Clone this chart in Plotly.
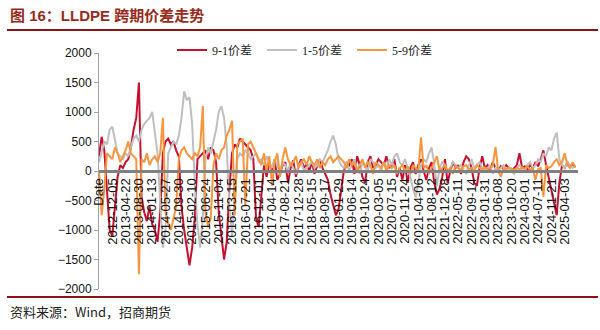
import plotly.graph_objects as go

# ---------------- data (one sample ~ every 2.66 px) ----------------
tick_labels = ["Date", "2012-12-05", "2013-04-22", "2013-08-30", "2014-01-13", "2014-05-27",
               "2014-09-30", "2015-02-10", "2015-06-24", "2015-11-04", "2016-03-15", "2016-07-21",
               "2016-12-01", "2017-04-14", "2017-08-21", "2017-12-28", "2018-05-15", "2018-09-17",
               "2019-01-29", "2019-06-14", "2019-10-24", "2020-03-05", "2020-07-15", "2020-11-24",
               "2021-04-06", "2021-08-12", "2021-12-28", "2022-05-11", "2022-09-14", "2023-01-31",
               "2023-06-08", "2023-10-20", "2024-03-01", "2024-07-11", "2024-11-21", "2025-04-03"]
samples_per_tick = 5

spread_9_1 = [250, 580, 350, -300, -1000, -1100, -600, -100, 100, 50,
              150, 200, 400, 700, 900, 1500, -450, -700, -850, -600,
              -900, -1000, -1200, -700, 300, 500, 550, 450, 500, 350,
              250, -600, -1000, -1300, -1600, -1300, -800, 200, 250, 300,
              350, 200, 400, 350, 150, -700, -1100, -1500, -1200, -300,
              300, 450, 400, 550, 500, 450, 400, 350, 200, -800,
              -950, -400, 100, -100, 150, 0, 200, -150, -50, 100,
              150, -200, 50, 180, -100, 100, 200, 50, 120, 0,
              150, -50, 100, 200, 50, -50, -150, -400, -600, -750,
              -650, -300, 0, 150, 100, 200, -50, 250, 100, -100,
              -200, 150, 250, 50, 100, 200, 150, 100, 250, 50,
              100, 200, -100, 50, -150, 100, -200, 50, 150, -50,
              100, 200, 0, -150, 50, 150, -200, -400, -300, -100,
              200, -200, 0, 150, 50, 100, -50, 150, 250, 200,
              50, -200, -250, 50, 250, 50, 100, 0, 150, 50,
              0, 80, 30, 100, 50, 0, 50, 100, 300, 50,
              80, 20, 100, 50, 150, 80, 200, 350, 100, -100,
              -300, -500, -750, -200, 100, 50, 150, 80, 120, 60]

spread_1_5 = [150, 350, 500, 450, 700, 750, 500, 300, 250, 200,
              300, 250, 400, 550, 600, 500, 700, 800, 850, 900,
              1000, 600, 300, -500, -1300, -1000, 300, 400, 500, 450,
              600, 900, 1350, 1200, 1250, 800, -200, -900, -1300, -800,
              200, 400, 300, 500, 700, 1000, 1100, 900, 400, -600,
              -1100, -500, 200, 300, 250, 350, 300, 200, 250, 300,
              150, 200, 100, 250, 150, 50, 200, 100, -50, 150,
              100, 0, 150, 50, -50, 100, 150, 0, 50, 100,
              150, 50, 100, 200, 150, 250, 350, 500, 600, 450,
              200, 100, 50, 150, 0, 100, 200, 50, -50, 150,
              100, 0, 200, 150, 50, 100, 0, 150, 50, 200,
              100, 250, 300, 150, 100, 200, 50, -100, -300, -450,
              -200, 100, 200, 150, 300, 400, 100, -250, 50, 150,
              100, 0, 50, 150, 100, 50, 100, 0, -50, 100,
              200, 50, 100, 150, 50, 0, 50, 100, -50, 50,
              0, 50, 100, 30, 50, 0, -50, 50, 100, 50,
              0, 100, 150, 50, 100, 200, 150, 300, 250, 400,
              350, 550, 650, 200, 100, 50, 150, 100, 50, 80]

spread_5_9 = [0, -750, -300, 300, 250, 200, 400, 300, 150, 250,
              350, 500, 300, 250, 200, -1750, 200, 150, 300, 100,
              200, 250, 150, 300, 900, -700, -900, -1000, -800, -600,
              200, 350, 400, 300, 250, 200, 300, 250, 400, 1100,
              -700, -950, -800, 100, 300, 200, 350, 400, 600, 700,
              850, -750, 450, 500, 550, -600, 450, 500, 400, 300,
              200, 100, 300, 0, 250, -250, 150, 300, -100, 200,
              400, 200, 100, 150, 250, 50, 150, 200, 100, 250,
              150, 100, 200, 50, 150, 100, 200, 250, 150, 200,
              250, 200, 150, 50, 200, 100, 150, 0, 100, 200,
              50, 150, 100, -50, 150, 100, 50, 150, 0, 100,
              50, 100, -50, 50, 100, 0, 80, -50, 100, 50,
              0, 570, 50, 100, -50, 50, 150, 250, 0, 50,
              100, 0, 50, -50, 100, 50, 0, 80, 100, 30,
              50, 0, 100, 50, 20, 60, 30, 50, 100, 410,
              0, -100, 50, 30, 60, 40, 20, 50, 30, 60,
              40, 80, 20, 50, -150, 30, 50, -440, 100, 50,
              80, 150, 200, 100, 150, 300, 100, 50, 150, 60]

series_names = ["9-1价差", "1-5价差", "5-9价差"]
series_colors = ["#C8102E", "#BFBFBF", "#F7963C"]

# ---------------- layout geometry ----------------
W, H = 600, 330
L, R, T, B = 99, 22, 53, 41
PW, PH = W - L - R, H - T - B


def fx(px):
    return (px - L) / PW


def fy(py):
    return (H - B - py) / PH


fig = go.Figure()
for name, vals, col in zip(series_names, [spread_9_1, spread_1_5, spread_5_9], series_colors):
    fig.add_trace(go.Scatter(x=list(range(len(vals))), y=vals, mode="lines", name=name,
                             line=dict(color=col, width=2)))

n_ticks = len(tick_labels)
fig.update_layout(
    width=W, height=H,
    margin=dict(l=L, r=R, t=T, b=B, pad=0),
    paper_bgcolor="white", plot_bgcolor="white",
    showlegend=True,
    legend=dict(orientation="h", x=fx(172), y=fy(50), xanchor="left", yanchor="middle",
                entrywidth=45, entrywidthmode="pixels",
                font=dict(family="Liberation Serif, Noto Sans CJK SC", size=12, color="#222"),
                bgcolor="rgba(0,0,0,0)", itemclick=False),
    xaxis=dict(range=[0, 180], anchor="free", position=0.5,
               tickvals=[i * samples_per_tick for i in range(n_ticks)], ticktext=tick_labels,
               tickangle=-90, ticks="", showgrid=False, zeroline=False,
               showline=True, linecolor="#808080", linewidth=3,
               tickfont=dict(family="Liberation Sans, Arial", size=13, color="#111")),
    yaxis=dict(range=[-2000, 2000], dtick=500, tick0=0, showgrid=False, zeroline=False,
               showline=True, linecolor="#A0A0A0", linewidth=1,
               ticks="outside", ticklen=4, tickcolor="#A0A0A0",
               tickfont=dict(family="Liberation Sans, Arial", size=12, color="#111")),
)

fig.add_annotation(xref="paper", yref="paper", x=fx(8), y=fy(16), xanchor="left", yanchor="middle",
                   text="<b>图 16：LLDPE 跨期价差走势</b>", showarrow=False,
                   font=dict(family="Liberation Sans, Noto Sans CJK SC", size=15, color="#9A2A1A"))
fig.add_annotation(xref="paper", yref="paper", x=fx(8), y=fy(311), xanchor="left", yanchor="middle",
                   text="资料来源：Wind，招商期货", showarrow=False,
                   font=dict(family="Noto Sans CJK SC, Liberation Sans", size=13, color="#222"))
for py in (30, 297):
    fig.add_shape(type="line", xref="paper", yref="paper", x0=fx(7), x1=fx(598), y0=fy(py), y1=fy(py),
                  line=dict(color="#8E1414", width=2))

fig.write_html("out.html")
